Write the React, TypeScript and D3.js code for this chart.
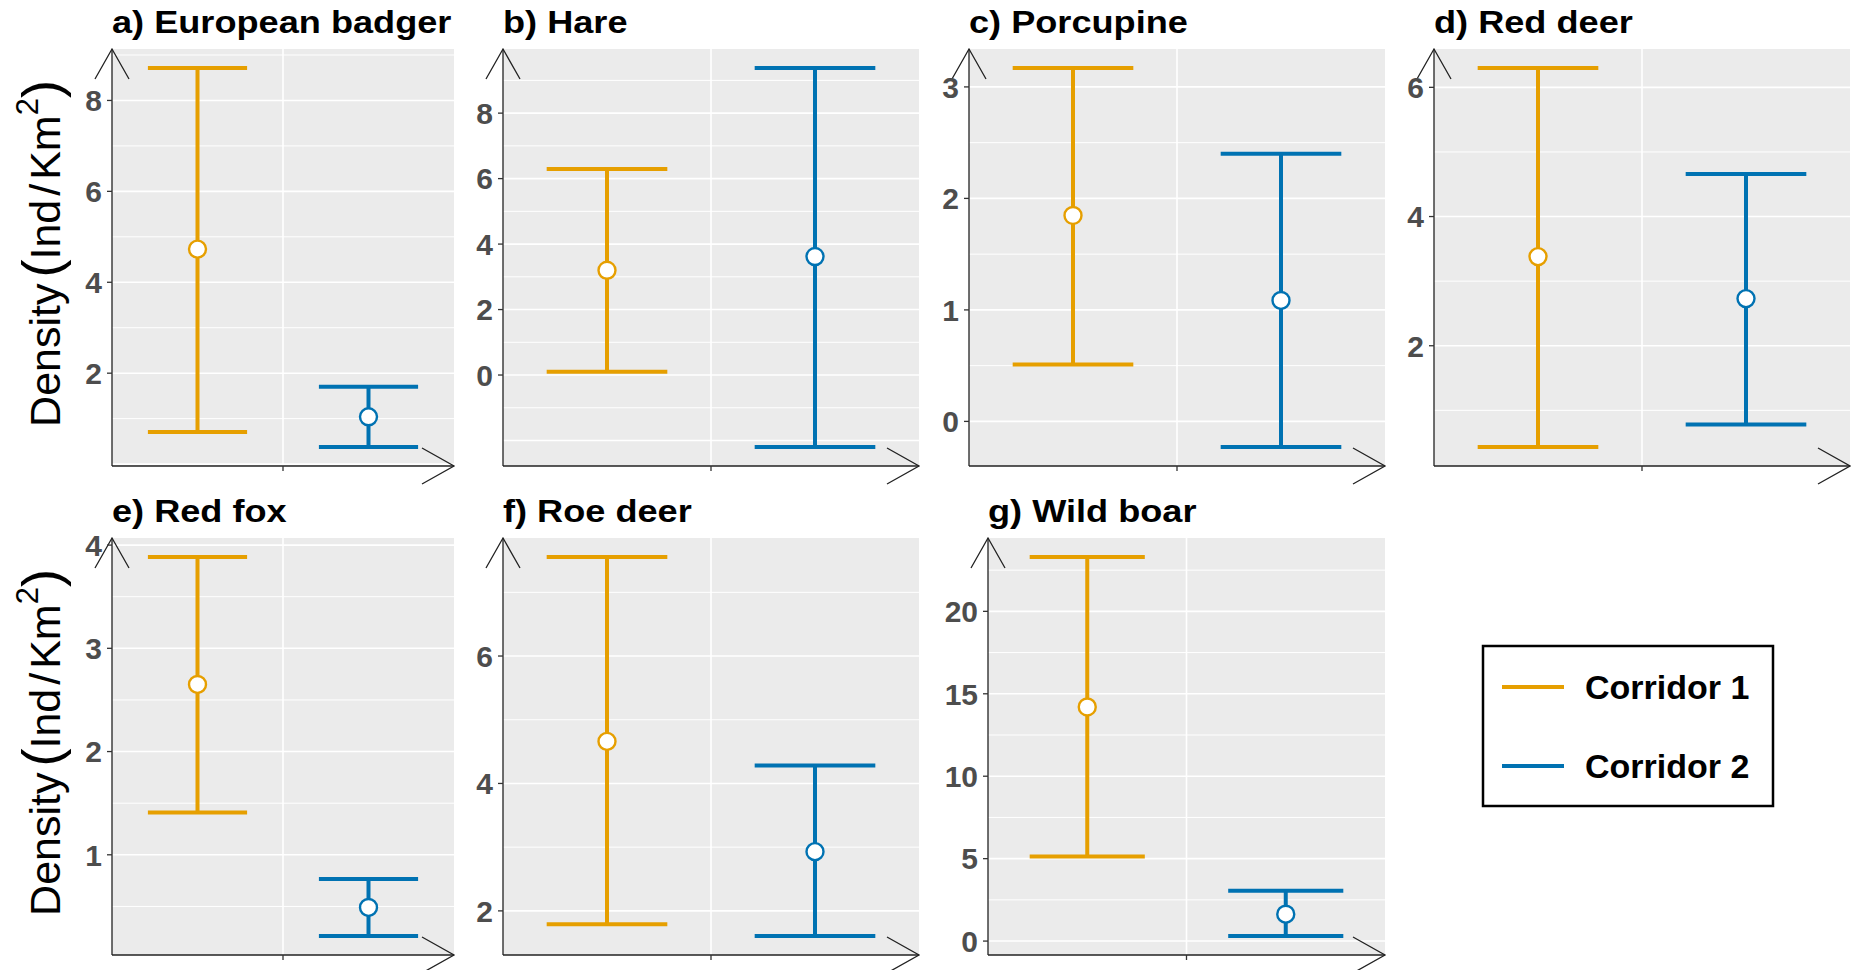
import React from "react";
import * as d3 from "d3";

// species panels
const species = [
  "a) European badger",
  "b) Hare",
  "c) Porcupine",
  "d) Red deer",
  "e) Red fox",
  "f) Roe deer",
  "g) Wild boar",
];

const corridors = ["Corridor 1", "Corridor 2"];
const corridorColors = ["#E69F00", "#0072B2"];

const corridor1Lower = [0.707, 0.1, 0.51, 0.432, 1.41, 1.79, 5.13];
const corridor1Mean = [4.73, 3.2, 1.847, 3.38, 2.65, 4.66, 14.2];
const corridor1Upper = [8.715, 6.29, 3.17, 6.3, 3.885, 7.555, 23.3];

const corridor2Lower = [0.375, -2.2, -0.23, 0.78, 0.213, 1.605, 0.305];
const corridor2Mean = [1.04, 3.62, 1.085, 2.73, 0.49, 2.93, 1.63];
const corridor2Upper = [1.7, 9.38, 2.4, 4.66, 0.766, 4.28, 3.05];

const yTicks = [
  [2, 4, 6, 8],
  [0, 2, 4, 6, 8],
  [0, 1, 2, 3],
  [2, 4, 6],
  [1, 2, 3, 4],
  [2, 4, 6],
  [0, 5, 10, 15, 20],
];

// panel boxes in page pixels
const panelLeft = [112, 503, 969, 1434, 112, 503, 988];
const panelRight = [454, 919, 1385, 1850, 454, 919, 1385];
const rowTop = [49, 538];
const panelHeight = 417;

const FONT = "'Liberation Sans', Arial, sans-serif";

function Panel({ i }) {
  const left = panelLeft[i];
  const right = panelRight[i];
  const top = rowTop[i < 4 ? 0 : 1];
  const bottom = top + panelHeight;

  const lows = [corridor1Lower[i], corridor2Lower[i]];
  const means = [corridor1Mean[i], corridor2Mean[i]];
  const highs = [corridor1Upper[i], corridor2Upper[i]];

  const lo = d3.min(lows);
  const hi = d3.max(highs);
  const pad = (hi - lo) * 0.05;

  const y = d3.scaleLinear().domain([lo - pad, hi + pad]).range([bottom, top]);
  const x = d3.scaleLinear().domain([0.5, 2.5]).range([left, right]);

  const ticks = yTicks[i];
  const step = ticks[1] - ticks[0];
  const half = step / 2;
  const [d0, d1] = y.domain();
  const grid = d3.range(Math.ceil(d0 / half), Math.floor(d1 / half) + 1).map((k) => k * half);

  const capHalf = 0.29;

  return (
    <g>
      <rect x={left} y={top} width={right - left} height={bottom - top} fill="#EBEBEB" />
      {grid.map((g) => {
        const major = Math.abs(g / step - Math.round(g / step)) < 1e-6;
        return (
          <line key={g} x1={left} x2={right} y1={y(g)} y2={y(g)} stroke="#fff" strokeWidth={major ? 1.6 : 1} />
        );
      })}
      <line x1={x(1.5)} x2={x(1.5)} y1={top} y2={bottom} stroke="#fff" strokeWidth={1.6} />

      {[0, 1].map((k) => (
        <g key={k} stroke={corridorColors[k]} strokeWidth={4}>
          <line x1={x(k + 1)} x2={x(k + 1)} y1={y(lows[k])} y2={y(highs[k])} />
          <line x1={x(k + 1 - capHalf)} x2={x(k + 1 + capHalf)} y1={y(lows[k])} y2={y(lows[k])} />
          <line x1={x(k + 1 - capHalf)} x2={x(k + 1 + capHalf)} y1={y(highs[k])} y2={y(highs[k])} />
          <circle cx={x(k + 1)} cy={y(means[k])} r={8.5} fill="#fff" strokeWidth={2.4} />
        </g>
      ))}

      {/* axes with open arrow heads */}
      <g stroke="#222" strokeWidth={1.3} fill="none">
        <line x1={left} x2={left} y1={bottom} y2={top} />
        <polyline points={`${left - 17},${top + 30} ${left},${top} ${left + 17},${top + 30}`} />
        <line x1={left} x2={right} y1={bottom} y2={bottom} />
        <polyline points={`${right - 32},${bottom - 18} ${right},${bottom} ${right - 32},${bottom + 18}`} />
        <line x1={x(1.5)} x2={x(1.5)} y1={bottom} y2={bottom + 5} stroke="#333" />
      </g>

      {ticks.map((t) => (
        <g key={t}>
          <line x1={left - 5} x2={left} y1={y(t)} y2={y(t)} stroke="#333" strokeWidth={1.3} />
          <text
            x={left - 10}
            y={y(t)}
            dy="0.36em"
            textAnchor="end"
            fontFamily={FONT}
            fontWeight="bold"
            fontSize={30}
            fill="#4D4D4D"
          >
            {t}
          </text>
        </g>
      ))}

      <text
        transform={`translate(${left},${top - 16}) scale(1.13,1)`}
        fontFamily={FONT}
        fontWeight="bold"
        fontSize={32}
        fill="#000"
      >
        {species[i]}
      </text>
    </g>
  );
}

function YLabel({ cy }) {
  return (
    <text
      transform={`translate(60,${cy}) rotate(-90)`}
      textAnchor="middle"
      fontFamily={FONT}
      fontSize={43}
      fill="#000"
    >
      Density
      <tspan fontSize={54} dx={6}>(</tspan>
      <tspan>Ind</tspan>
      <tspan dx={4}>/</tspan>
      <tspan dx={4}>Km</tspan>
      <tspan fontSize={31} dy={-22}>2</tspan>
      <tspan fontSize={54} dy={22}>)</tspan>
    </text>
  );
}

export default function App() {
  return (
    <svg
      width={1851}
      height={970}
      style={{ position: "absolute", left: 0, top: 0, background: "#fff" }}
    >
      <rect width={1851} height={970} fill="#fff" />
      {species.map((s, i) => (
        <Panel key={s} i={i} />
      ))}
      <YLabel cy={rowTop[0] + panelHeight / 2 - 4} />
      <YLabel cy={rowTop[1] + panelHeight / 2 - 4} />

      <g>
        <rect x={1483} y={646} width={290} height={160} fill="#fff" stroke="#000" strokeWidth={2.5} />
        {corridors.map((c, k) => (
          <g key={c}>
            <line x1={1502} x2={1564} y1={687 + k * 79} y2={687 + k * 79} stroke={corridorColors[k]} strokeWidth={4} />
            <text
              x={1585}
              y={687 + k * 79}
              dy="0.36em"
              fontFamily={FONT}
              fontWeight="bold"
              fontSize={34}
              fill="#000"
            >
              {c}
            </text>
          </g>
        ))}
      </g>
    </svg>
  );
}
